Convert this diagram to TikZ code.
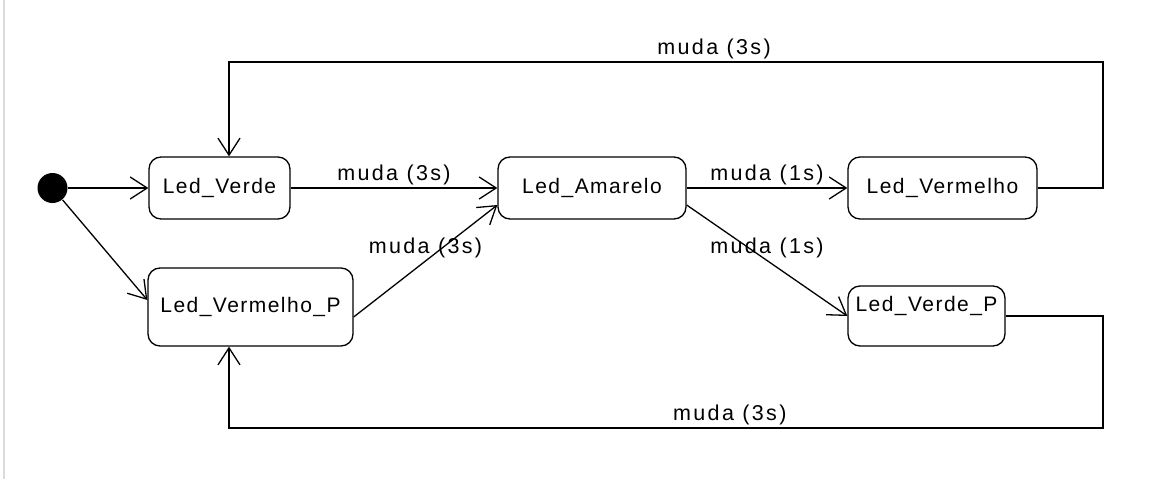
\documentclass[tikz,border=0pt]{standalone}
\usepackage{fontspec}
\setmainfont{Liberation Sans}[LetterSpace=7]
\usetikzlibrary{arrows.meta,calc}

\begin{document}
\begin{tikzpicture}[%
x=1pt, y=-1pt,
line width=1.3pt,
estado/.style={draw, rounded corners=12pt, inner sep=0pt, font=\fontsize{21}{25}\selectfont},
rotulo/.style={above, inner sep=2pt, font=\fontsize{21.5}{25}\selectfont\addfontfeature{LetterSpace=11}},
trans/.style={-{Straight Barb[length=17pt,width=22pt]}},
]
\useasboundingbox (0,0) rectangle (1165,479);
\draw [color=black!14, line width=2pt] (4,0) -- (4,479);
%% initial;
\node [circle, fill, inner sep=0pt, minimum size=30pt] (ini) at (52.5,188) {};
%% states;
\node [estado, minimum width=141pt, minimum height=62pt] (verde) at (219.5,188) {Led\_Verde};
\node [estado, minimum width=188pt, minimum height=62pt] (amarelo) at (592,188) {Led\_Amarelo};
\node [estado, minimum width=189pt, minimum height=62pt] (vermelho) at (942.5,188) {Led\_Vermelho};
\node [estado, minimum width=205pt, minimum height=78pt] (vermp) at (250.5,307) {Led\_Vermelho\_P};
\node [estado, minimum width=157pt, minimum height=60pt, align=center] (verdep) at (926.5,316) {Led\_Verde\_P\\\mbox{}};
%% corners;
\coordinate (cantoA) at (1103,62);
\coordinate (cantoB) at (229,62);
\coordinate (cantoC) at (1103,428);
\coordinate (cantoD) at (229,428);
%% transitions;
\draw [trans] (ini) -- (verde);
\draw [trans] (ini) -- ($(vermp.west)+(0,-7)$);
\draw [trans] (verde) -- node[rotulo] {muda (3s)} (amarelo);
\draw [trans] ($(vermp.east)+(0,10)$) -- node[rotulo] {muda (3s)} ($(amarelo.west)+(0,17)$);
\draw [trans] (amarelo) -- node[rotulo] {muda (1s)} (vermelho);
\draw [trans] ($(amarelo.east)+(0,17)$) -- node[rotulo] {muda (1s)} (verdep.west);
%% loops;
\draw [trans] (vermelho.east) -- (vermelho.east -| cantoA) -- (cantoA) -- node[rotulo, pos=0.445] {muda (3s)} (cantoB) -- (cantoB |- verde.north);
\draw [trans] (verdep.east) -- (verdep.east -| cantoC) -- (cantoC) -- node[rotulo, pos=0.427] {muda (3s)} (cantoD) -- (cantoD |- vermp.south);
\end{tikzpicture}
\end{document}
